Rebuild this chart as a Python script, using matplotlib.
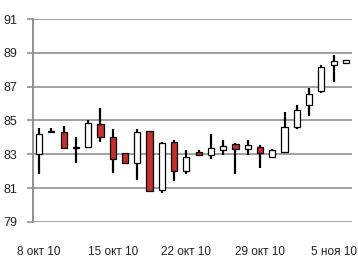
import numpy as np
import matplotlib.pyplot as plt

# trading days (Mon-Sat), 8 Oct 2010 .. 6 Nov 2010
dates = ["08.10", "09.10", "11.10", "12.10", "13.10", "14.10",
         "15.10", "16.10", "18.10", "19.10", "20.10", "21.10",
         "22.10", "23.10", "25.10", "26.10", "27.10", "28.10",
         "29.10", "30.10", "01.11", "02.11", "03.11", "04.11",
         "05.11", "06.11"]

opens = [83.0, 84.3, 84.3, 83.45, 83.42, 84.8, 84.0, 83.1, 82.5, 84.4,
         80.9, 83.7, 82.0, 83.15, 82.95, 83.25, 83.6, 83.3, 83.45, 82.85,
         83.15, 84.6, 85.9, 86.75, 88.3, 88.4]
closes = [84.2, 84.35, 83.4, 83.4, 84.85, 84.0, 82.7, 82.5, 84.3, 80.85,
          83.65, 82.0, 82.85, 82.95, 83.35, 83.5, 83.3, 83.55, 83.1, 83.25,
          84.6, 85.65, 86.55, 88.15, 88.5, 88.6]
highs = [84.55, 84.55, 84.7, 84.0, 85.0, 85.75, 84.5, 83.1, 84.5, 84.4,
         83.7, 83.85, 83.25, 83.25, 84.2, 83.85, 83.65, 83.85, 83.55, 83.3,
         85.5, 85.9, 86.9, 88.3, 88.85, 88.6]
lows = [81.85, 84.3, 83.3, 82.5, 83.42, 83.7, 81.9, 82.5, 81.5, 80.8,
        80.7, 81.4, 81.85, 82.9, 82.7, 82.95, 81.85, 82.95, 82.2, 82.8,
        83.15, 84.5, 85.25, 86.6, 87.3, 88.38]

tick_pos = [0, 6, 12, 18, 24]
tick_labels = ["8 окт 10", "15 окт 10", "22 окт 10", "29 окт 10", "5 ноя 10"]

plt.rcParams['font.family'] = ['Liberation Sans', 'DejaVu Sans']

fig = plt.figure(figsize=(3.58, 2.59), dpi=100)
ax = fig.add_axes([0.0922, 0.1429, 0.891, 0.7837])

x = np.arange(len(dates))
o = np.array(opens)
c = np.array(closes)
up = c >= o
colors = np.where(up, 'white', '#C4302B')

ax.vlines(x, lows, highs, color='black', lw=1.6, zorder=3)
ax.bar(x, c - o, bottom=o, width=0.5, color=colors, edgecolor='black',
       linewidth=0.9, zorder=4)

ax.set_xlim(-0.5, 25.5)
ax.set_ylim(79, 91)
ax.set_yticks(np.arange(79, 92, 2))
ax.set_xticks(tick_pos)
ax.set_xticklabels(tick_labels)

ax.grid(axis='y', color='#A0A0A0', lw=1.4, zorder=0)
for s in ['top', 'right', 'bottom']:
    ax.spines[s].set_visible(False)
ax.spines['left'].set_color('#909090')
ax.spines['left'].set_linewidth(1.4)
ax.tick_params(axis='y', length=4, width=1.2, color='#909090', pad=7,
               labelsize=9, labelcolor='#222222')
ax.tick_params(axis='x', length=0, pad=17, labelsize=8.5, labelcolor='#222222')

fig.savefig('out.png', dpi=100)
